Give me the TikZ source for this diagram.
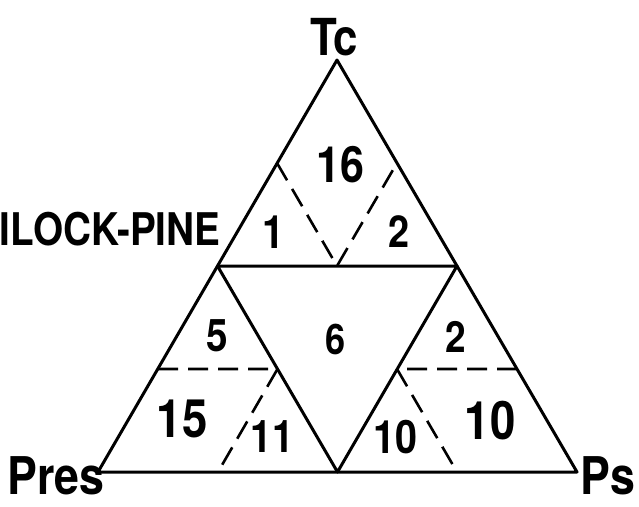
\documentclass[tikz,border=0pt]{standalone}
\usepackage{fontspec}
\setmainfont[FakeStretch=0.86]{TeX Gyre Heros}
\begin{document}
\begin{tikzpicture}[x=1pt, y=-1pt, line width=3pt, line join=round,
    zone/.style={inner sep=0pt, font=\fontsize{#1}{#1}\selectfont\bfseries},
    zone/.default=46,
    corner/.style={inner sep=0pt, anchor=base, font=\fontsize{#1}{#1}\selectfont\bfseries},
    split/.style={dash pattern=on 20pt off 10pt, line width=2.6pt}]
    \useasboundingbox (0,0) rectangle (639,506);

    % Corners of the big triangle
    \coordinate (pres) at (98,472);
    \coordinate (ps) at (577,472);
    \coordinate (tc) at (337,60);

    % Midpoints of the sides
    \coordinate (midL) at (217.5,266);
    \coordinate (midR) at (457,266);
    \coordinate (midB) at (337.5,472);

    % Quarter points
    \coordinate (qTL) at (277,163);
    \coordinate (qTR) at (397,163);
    \coordinate (qLL) at (158,369);
    \coordinate (qLR) at (277.5,369);
    \coordinate (qLB) at (218,472);
    \coordinate (qRL) at (397,369);
    \coordinate (qRR) at (517,369);
    \coordinate (qRB) at (457,472);
    \coordinate (qMid) at (337,266);

    % Outline and inner triangle
    \draw (pres) -- (ps) -- (tc) -- cycle;
    \draw (midL) -- (midR) -- (midB) -- cycle;

    % Dashed splits
    \draw[split] (qTL) -- (qMid) -- (qTR);
    \draw[split] (qLL) -- (qLR) -- (qLB);
    \draw[split] (qRR) -- (qRL) -- (qRB);

    % Zone numbers
    \node[zone=50] (n16) at (340,165) {16};
    \node[zone=46] (n1) at (273,232) {1};
    \node[zone=44] (n2top) at (399,232) {2};
    \node[zone=45] (n5) at (217,336) {5};
    \node[zone=42] (n6) at (336,339) {6};
    \node[zone=43] (n2right) at (456,337) {2};
    \node[zone=53] (n15) at (182,419) {15};
    \node[zone=45] (n11) at (272,437) {11};
    \node[zone=46] (n10left) at (395,437) {10};
    \node[zone=53] (n10right) at (490,421) {10};

    % Labels
    \node[corner=51] (lTc) at (334,55) {Tc};
    \node[corner=52] (lPres) at (56,494) {Pres};
    \node[corner=52] (lPs) at (608,494) {Ps};
    \node[corner=45, anchor=base east] (lPine) at (222,245) {ILOCK-PINE};
\end{tikzpicture}
\end{document}
